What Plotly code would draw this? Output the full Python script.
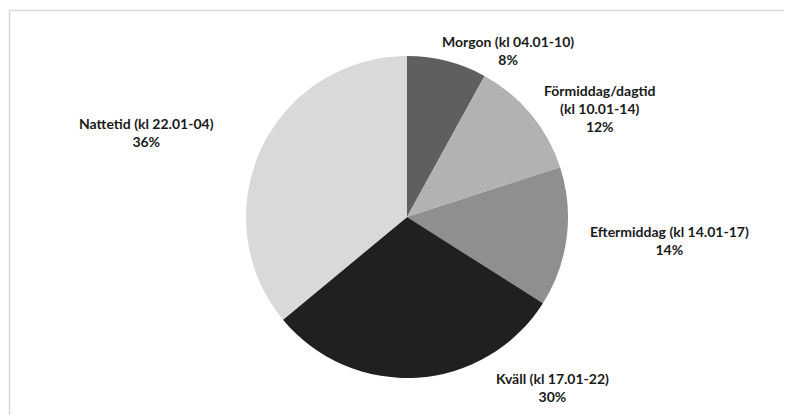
import plotly.graph_objects as go

# data
labels = ['Morgon (kl 04.01-10)', 'Förmiddag/dagtid<br>(kl 10.01-14)',
          'Eftermiddag (kl 14.01-17)', 'Kväll (kl 17.01-22)', 'Nattetid (kl 22.01-04)']
values = [8, 12, 14, 30, 36]
colors = ['#5f5f5f', '#b2b2b2', '#8f8f8f', '#202020', '#d9d9d9']

W, H = 792, 415
OFF = 8  # page body margin shifts everything by 8px

# label anchor positions (pixels in the screenshot) - layout only
label_px = [(508, 50), (600, 109), (669, 240), (552, 387), (146, 133)]
cx, cy, r = 407, 217, 161


def px_x(x):
    return (x - OFF) / W


def px_y(y):
    return 1 - (y - OFF) / H


fig = go.Figure(go.Pie(
    labels=labels, values=values, sort=False, direction='clockwise', rotation=0,
    marker=dict(colors=colors, line=dict(width=0)),
    textinfo='none', hoverinfo='label+percent', showlegend=False,
    domain=dict(x=[px_x(cx - 300), px_x(cx + 300)], y=[px_y(cy + r), px_y(cy - r)]),
))

total = sum(values)
for lab, v, (x, y) in zip(labels, values, label_px):
    fig.add_annotation(
        x=px_x(x), y=px_y(y), xref='paper', yref='paper', showarrow=False,
        text='<b>{}<br>{}%</b>'.format(lab, round(v * 100 / total)),
        font=dict(family='Lato, Open Sans, sans-serif', size=14, color='#1a1a1a'),
        align='center', xanchor='center', yanchor='middle',
    )

# chart area border (top and left visible in the crop)
fig.add_shape(type='rect', xref='paper', yref='paper',
              x0=px_x(9.5), x1=1.05, y0=-0.05, y1=px_y(10.5),
              line=dict(color='#d9d9d9', width=1.5), fillcolor='rgba(0,0,0,0)')

fig.update_layout(
    width=W, height=H, margin=dict(l=0, r=0, t=0, b=0),
    paper_bgcolor='white', plot_bgcolor='white',
)

fig.write_html('out.html')
